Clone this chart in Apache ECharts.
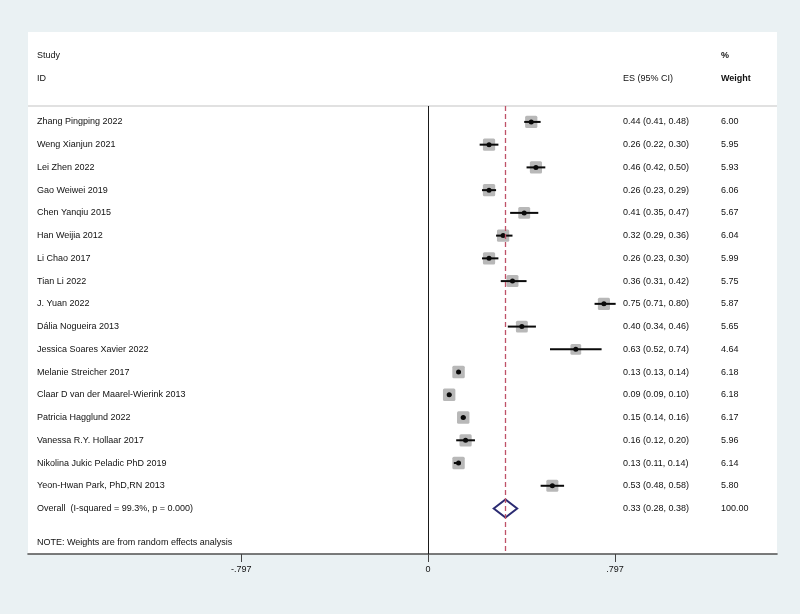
<!DOCTYPE html>
<html><head><meta charset="utf-8">
<script src="https://cdn.jsdelivr.net/npm/echarts@6/dist/echarts.min.js"></script>
<style>html,body{margin:0;padding:0;background:#eaf1f3}#c{width:800px;height:614px}</style>
</head><body><div id="c"></div>
<script>
const studies = ["Zhang Pingping 2022","Weng Xianjun 2021","Lei Zhen 2022","Gao Weiwei 2019","Chen Yanqiu 2015","Han Weijia 2012","Li Chao 2017","Tian Li 2022","J. Yuan 2022","Dália Nogueira 2013","Jessica Soares Xavier 2022","Melanie Streicher 2017","Claar D van der Maarel-Wierink 2013","Patricia Hagglund 2022","Vanessa R.Y. Hollaar 2017","Nikolina Jukic Peladic PhD 2019","Yeon-Hwan Park, PhD,RN 2013"];
const es  = [0.44,0.26,0.46,0.26,0.41,0.32,0.26,0.36,0.75,0.40,0.63,0.13,0.09,0.15,0.16,0.13,0.53];
const lo  = [0.41,0.22,0.42,0.23,0.35,0.29,0.23,0.31,0.71,0.34,0.52,0.13,0.09,0.14,0.12,0.11,0.48];
const hi  = [0.48,0.30,0.50,0.29,0.47,0.36,0.30,0.42,0.80,0.46,0.74,0.14,0.10,0.16,0.20,0.14,0.58];
const weights = [6.00,5.95,5.93,6.06,5.67,6.04,5.99,5.75,5.87,5.65,4.64,6.18,6.18,6.17,5.96,6.14,5.80];
const overallLabel = "Overall  (I-squared = 99.3%, p = 0.000)";
const overallES = 0.33, overallLo = 0.28, overallHi = 0.38, overallWeight = 100.00;
const noteText = "NOTE: Weights are from random effects analysis";
const xTicks = [-0.797, 0, 0.797];
const xTickLabels = ["-.797", "0", ".797"];

const FONT = '"Liberation Sans", Arial, sans-serif';
const TXT = '#111111';
const chart = echarts.init(document.getElementById('c'));

const n = studies.length;
const rowData = studies.map((s, i) => [i, es[i], lo[i], hi[i], weights[i]]);
const fmt = (a,b,c) => a.toFixed(2) + ' (' + b.toFixed(2) + ', ' + c.toFixed(2) + ')';
const textRows = studies.map((s, i) => ({label: s, es: fmt(es[i], lo[i], hi[i]), w: weights[i].toFixed(2), row: i}));
textRows.push({label: overallLabel, es: fmt(overallES, overallLo, overallHi), w: overallWeight.toFixed(2), row: n});
textRows.push({label: noteText, es: '', w: '', row: n + 1.5});

function txt(x, y, t, bold) {
  return {type: 'text', x: x, y: y, style: {text: t, fill: TXT, fontSize: 9, fontFamily: FONT, fontWeight: bold ? 'bold' : 'normal', align: 'left', verticalAlign: 'middle'}};
}

chart.setOption({
  backgroundColor: '#eaf1f3',
  animation: false,
  graphic: [
    {type: 'rect', z: -100, shape: {x: 28, y: 32, width: 749, height: 522}, style: {fill: '#ffffff'}},
    {type: 'line', z: 1, shape: {x1: 28, y1: 106, x2: 777, y2: 106}, style: {stroke: '#c4c4c4', lineWidth: 1.2}},
    Object.assign(txt(37, 56, 'Study'), {z: 5}),
    Object.assign(txt(37, 79, 'ID'), {z: 5}),
    Object.assign(txt(623, 79, 'ES (95% CI)'), {z: 5}),
    Object.assign(txt(721, 56, '%', true), {z: 5}),
    Object.assign(txt(721, 79, 'Weight', true), {z: 5})
  ],
  grid: {left: 28, right: 23, top: 106, bottom: 60},
  xAxis: {
    type: 'value', min: -1.706, max: 1.488,
    axisLine: {show: true, onZero: false, lineStyle: {color: '#505050', width: 1.6}},
    axisTick: {show: true, customValues: xTicks, length: 8, lineStyle: {color: '#444', width: 1}},
    axisLabel: {show: true, customValues: xTicks, margin: 11, fontSize: 9, fontFamily: FONT, color: TXT,
      formatter: v => { const k = xTicks.findIndex(t => Math.abs(t - v) < 1e-6); return k >= 0 ? xTickLabels[k] : ''; }},
    splitLine: {show: false}
  },
  yAxis: {type: 'value', show: false, inverse: true, min: -0.7, max: 19},
  series: [
    {
      type: 'custom', name: 'studies', data: rowData, encode: {x: [1, 2, 3], y: 0}, z: 3,
      renderItem: function (params, api) {
        const i = api.value(0), e = api.value(1), l = api.value(2), h = api.value(3), w = api.value(4);
        const c = api.coord([e, i]), cl = api.coord([l, i]), ch = api.coord([h, i]);
        const s = 5.0 * Math.sqrt(w);
        return {type: 'group', children: [
          {type: 'rect', shape: {x: c[0] - s / 2, y: c[1] - s / 2, width: s, height: s, r: 1.5}, style: {fill: '#b8b8b8'}},
          {type: 'line', shape: {x1: cl[0], y1: cl[1], x2: ch[0], y2: ch[1]}, style: {stroke: '#0a0a0a', lineWidth: 2}},
          {type: 'circle', shape: {cx: c[0], cy: c[1], r: 2.5}, style: {fill: '#0a0a0a'}}
        ]};
      },
      markLine: {
        silent: true, symbol: ['none', 'none'], label: {show: false},
        data: [
          {xAxis: 0, lineStyle: {color: '#1a1a1a', width: 1, type: 'solid'}},
          {xAxis: overallES, lineStyle: {color: '#bf5268', width: 1.3, type: [5, 3]}}
        ]
      }
    },
    {
      type: 'custom', name: 'overall', z: 4,
      data: [[overallES, overallLo, overallHi, n]], encode: {x: [0, 1, 2], y: 3},
      renderItem: function (params, api) {
        const e = api.value(0), l = api.value(1), h = api.value(2), r = api.value(3);
        const c = api.coord([e, r]), cl = api.coord([l, r]), ch = api.coord([h, r]);
        return {type: 'polygon', shape: {points: [[cl[0], c[1]], [c[0], c[1] - 9], [ch[0], c[1]], [c[0], c[1] + 9]]},
          style: {fill: 'none', stroke: '#2b2b72', lineWidth: 2}};
      }
    },
    {
      type: 'custom', name: 'text', z: 5,
      data: textRows.map(t => [0, t.row]), encode: {x: 0, y: 1},
      renderItem: function (params, api) {
        const t = textRows[params.dataIndex];
        const y = api.coord([0, t.row])[1];
        const ch = [txt(37, y, t.label)];
        if (t.es) ch.push(txt(623, y, t.es));
        if (t.w) ch.push(txt(721, y, t.w));
        return {type: 'group', children: ch};
      }
    }
  ]
});
</script></body></html>
